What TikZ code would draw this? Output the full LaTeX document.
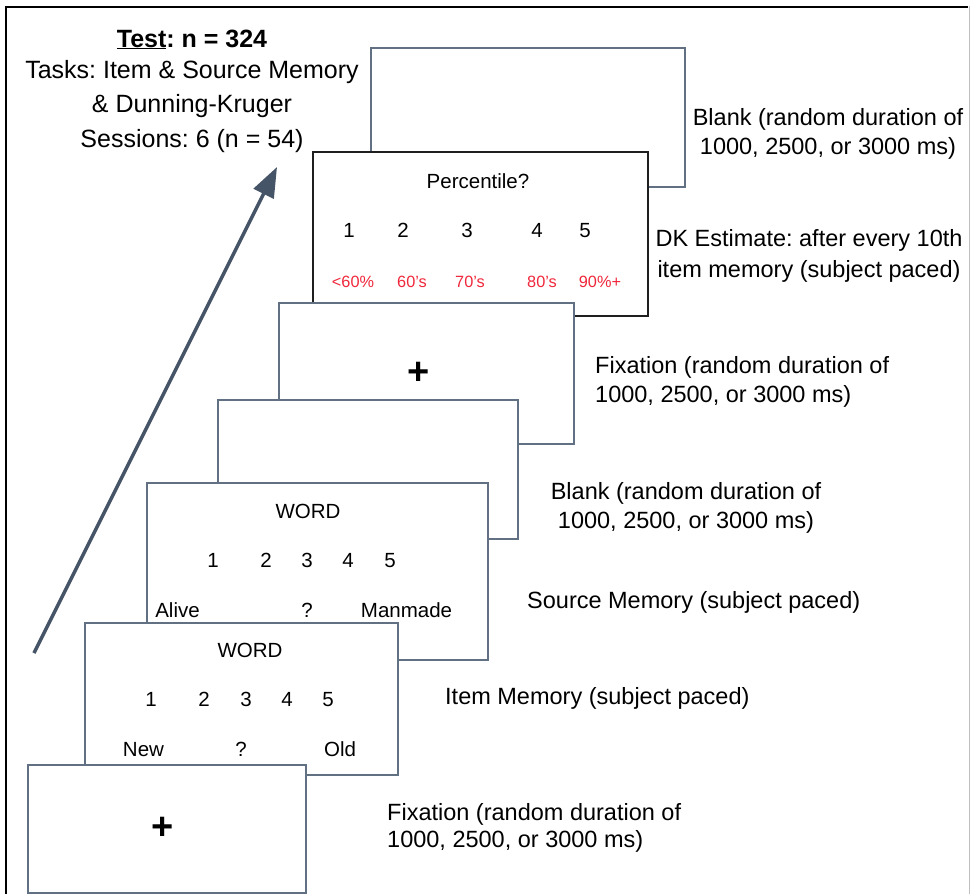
\documentclass[tikz,border=0pt]{standalone}
\usepackage{fontspec}
\setmainfont{Liberation Sans}
\usetikzlibrary{arrows.meta}
\definecolor{boxgray}{RGB}{98,112,132}
\definecolor{arrowgray}{RGB}{70,84,104}
\definecolor{dkred}{RGB}{240,40,60}
\frenchspacing
\begin{document}
\begin{tikzpicture}[x=1pt,y=-1pt,
  screen/.style={draw=boxgray, line width=1.6pt, fill=white, inner sep=0pt, anchor=north west},
  txt/.style={inner sep=0pt, anchor=base},
  lbl/.style={txt, font=\fontsize{23.5}{28}\selectfont},
  lbll/.style={lbl, anchor=base west},
  stim/.style={txt, font=\fontsize{20.5}{24}\selectfont},
  pct/.style={txt, font=\fontsize{16.3}{19}\selectfont, text=dkred},
  cross/.style={inner sep=0pt, font=\bfseries\fontsize{38}{38}\selectfont},
  hdr/.style={txt, font=\fontsize{25}{30}\selectfont}]

\useasboundingbox (0,0) rectangle (970,894);
\fill[white] (0,0) rectangle (970,894);
% outer frame
\draw[black, line width=2pt] (5.5,894) -- (5.5,6.5) -- (968,6.5);
\draw[black!25, line width=1pt] (969,6) -- (969,894);

% header
\node[hdr] (h1) at (192,47) {\textbf{\underline{Test}: n = 324}};
\node[hdr] (h2) at (192,78) {Tasks: Item \& Source Memory};
\node[hdr] (h3) at (192,112) {\& Dunning-Kruger};
\node[hdr] (h4) at (192,147) {Sessions: 6 (n = 54)};

% arrow
\coordinate (atail) at (34,653);
\coordinate (ahead) at (277,167);
\draw[arrowgray, line width=3.5pt, -{Triangle[length=30pt,width=22pt]}] (atail) -- (ahead);

% blank (top)
\node[screen, minimum width=314pt, minimum height=139pt] (blankA) at (370,47) {};
\node[lbl] (blankAl1) at (828,125) {Blank (random duration of};
\node[lbl] (blankAl2) at (828,154) {1000, 2500, or 3000 ms)};

% DK estimate
\node[screen, draw=black!88, minimum width=335pt, minimum height=164pt] (dk) at (312,151) {};
\node[stim] (pq) at (478,188) {Percentile?};
\node[stim] (p1) at (349,237) {1};
\node[stim] (p2) at (403,237) {2};
\node[stim] (p3) at (467,237) {3};
\node[stim] (p4) at (537,237) {4};
\node[stim] (p5) at (585,237) {5};
\node[pct] (r1) at (353,287) {<60\%};
\node[pct] (r2) at (412,287) {60’s};
\node[pct] (r3) at (470,287) {70’s};
\node[pct] (r4) at (542,287) {80’s};
\node[pct] (r5) at (600,287) {90\%+};
\node[lbl] (dkl1) at (809,246) {DK Estimate: after every 10th};
\node[lbl] (dkl2) at (809,277) {item memory (subject paced)};

% fixation (upper)
\node[screen, minimum width=295pt, minimum height=141pt] (fixA) at (278,302) {};
\node[cross] (fixAc) at (419,373) {+};
\node[lbll] (fixAl1) at (595,373) {Fixation (random duration of};
\node[lbll] (fixAl2) at (595,402) {1000, 2500, or 3000 ms)};

% blank (lower)
\node[screen, minimum width=300pt, minimum height=139pt] (blankB) at (217,399) {};
\node[lbl] (blankBl1) at (686,499) {Blank (random duration of};
\node[lbl] (blankBl2) at (686,528) {1000, 2500, or 3000 ms)};

% source memory
\node[screen, minimum width=341pt, minimum height=177pt] (src) at (146,482) {};
\node[stim] (sw) at (308,518) {WORD};
\node[stim] (s1) at (213,567) {1};
\node[stim] (s2) at (266,567) {2};
\node[stim] (s3) at (307,567) {3};
\node[stim] (s4) at (348,567) {4};
\node[stim] (s5) at (390,567) {5};
\node[stim] (sa) at (177.5,617) {Alive};
\node[stim] (sq) at (307,617) {?};
\node[stim] (sm) at (406.5,617) {Manmade};
\node[lbll] (srcl) at (527,608) {Source Memory (subject paced)};

% item memory
\node[screen, minimum width=313pt, minimum height=152pt] (item) at (84,622) {};
\node[stim] (iw) at (250,657) {WORD};
\node[stim] (i1) at (151,706) {1};
\node[stim] (i2) at (204,706) {2};
\node[stim] (i3) at (246,706) {3};
\node[stim] (i4) at (287,706) {4};
\node[stim] (i5) at (328,706) {5};
\node[stim] (in) at (143.5,756) {New};
\node[stim] (iq) at (241,756) {?};
\node[stim] (io) at (340,756) {Old};
\node[lbll] (iteml) at (445,704) {Item Memory (subject paced)};

% fixation (lower)
\node[screen, minimum width=278pt, minimum height=128pt] (fixB) at (27,764) {};
\node[cross] (fixBc) at (163,828) {+};
\node[lbll] (fixBl1) at (387,820) {Fixation (random duration of};
\node[lbll] (fixBl2) at (387,847) {1000, 2500, or 3000 ms)};
\end{tikzpicture}
\end{document}
